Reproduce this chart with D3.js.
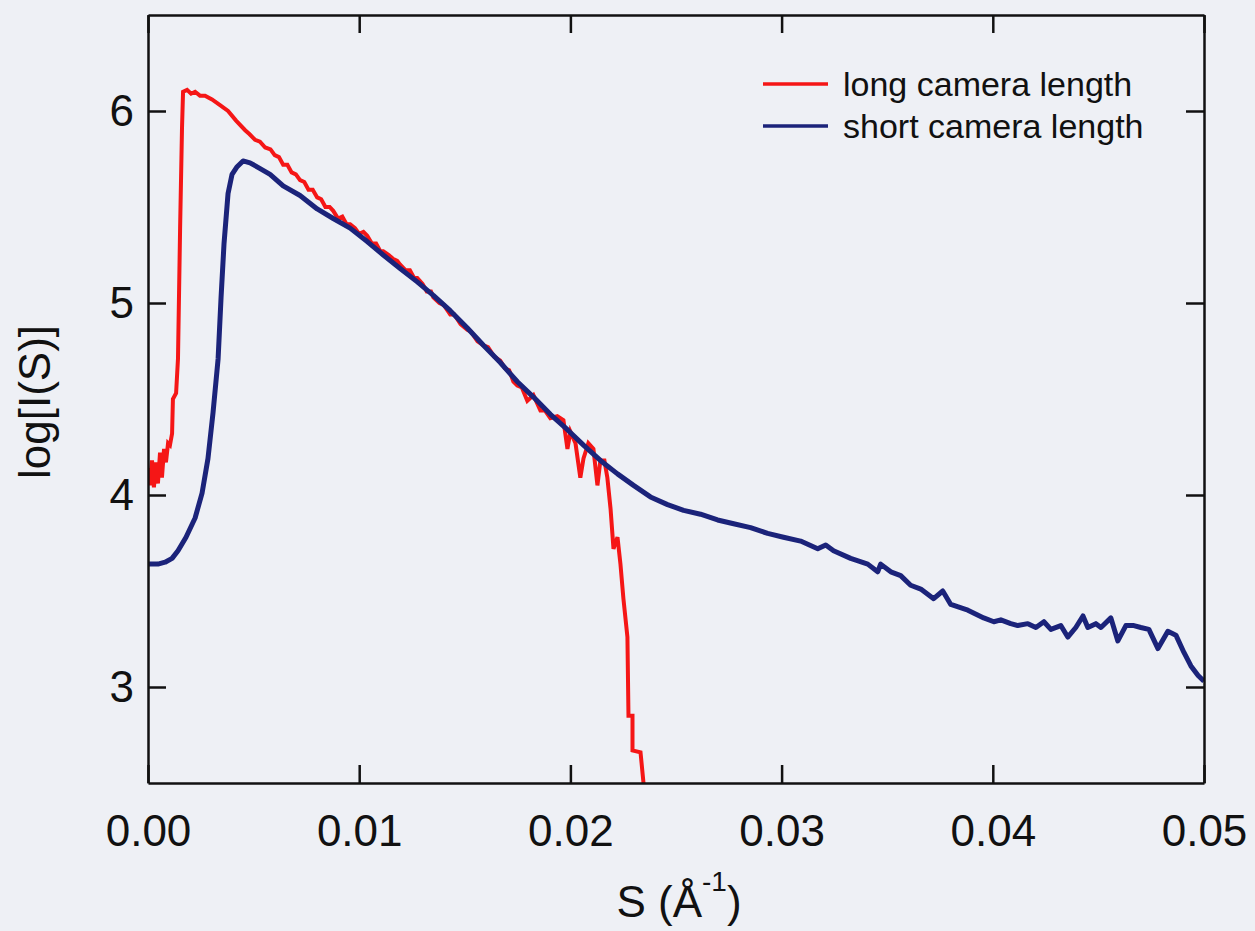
<!DOCTYPE html>
<html>
<head>
<meta charset="utf-8">
<script src="https://cdn.jsdelivr.net/npm/d3@7"></script>
<style>
  html, body { margin: 0; padding: 0; background: #eef0f5; }
  svg { display: block; }
  text { font-family: "Liberation Sans", Arial, sans-serif; fill: #111; }
</style>
</head>
<body>
<svg id="chart" width="1255" height="931"></svg>
<script>
// ---- data ----
const xTicks = [0, 0.01, 0.02, 0.03, 0.04, 0.05];
const xTickLabels = ["0.00", "0.01", "0.02", "0.03", "0.04", "0.05"];
const yTicks = [3, 4, 5, 6];
const yTickLabels = ["3", "4", "5", "6"];
const seriesNames = ["long camera length", "short camera length"];

const longS = [0, 0.00009, 0.00019, 0.00028, 0.00038, 0.00047, 0.00057, 0.00066, 0.00076, 0.00085,
  0.00095, 0.00104, 0.00114, 0.00118, 0.00133, 0.00142, 0.00152, 0.00161, 0.00166, 0.00185,
  0.00204, 0.00223, 0.00246, 0.00270, 0.00303, 0.00341, 0.00379, 0.00417, 0.00460, 0.00480,
  0.00507, 0.00530, 0.00555, 0.00580, 0.00600, 0.00620, 0.00640, 0.00660, 0.00680, 0.00700,
  0.00720, 0.00740, 0.00760, 0.00780, 0.00801, 0.00820, 0.00840, 0.00860, 0.00877, 0.00900,
  0.00920, 0.00940, 0.00957, 0.00980, 0.01000, 0.01020, 0.01038, 0.01060, 0.01080, 0.01100,
  0.01114, 0.01140, 0.01160, 0.01180, 0.01194, 0.01220, 0.01240, 0.01260, 0.01275, 0.01300,
  0.01320, 0.01340, 0.01351, 0.01380, 0.01400, 0.01431, 0.01450, 0.01480, 0.01512, 0.01530,
  0.01560, 0.01588, 0.01610, 0.01640, 0.01668, 0.01690, 0.01710, 0.01730, 0.01749, 0.01770,
  0.01796, 0.01825, 0.01858, 0.01880, 0.01905,
  0.01938, 0.01967, 0.01986, 0.02000, 0.02024, 0.02047, 0.02062, 0.02085, 0.02109, 0.02128,
  0.02142, 0.02161, 0.02175, 0.02190, 0.02204, 0.02223, 0.02237, 0.02251, 0.02270, 0.02275,
  0.02294, 0.02294, 0.02332, 0.02355];
const longLogI = [4.14, 4.05, 4.18, 4.04, 4.17, 4.06, 4.22, 4.09, 4.24, 4.17,
  4.27, 4.26, 4.32, 4.50, 4.53, 4.71, 5.39, 5.91, 6.10, 6.11,
  6.09, 6.10, 6.08, 6.08, 6.06, 6.03, 6.00, 5.95, 5.90, 5.88,
  5.85, 5.84, 5.81, 5.80, 5.77, 5.76, 5.72, 5.72, 5.68, 5.67,
  5.64, 5.63, 5.59, 5.59, 5.55, 5.54, 5.50, 5.50, 5.48, 5.44,
  5.45, 5.41, 5.41, 5.39, 5.36, 5.37, 5.35, 5.31, 5.31, 5.27,
  5.27, 5.25, 5.23, 5.22, 5.20, 5.17, 5.17, 5.13, 5.13, 5.10,
  5.06, 5.06, 5.03, 5.00, 4.99, 4.94, 4.94, 4.89, 4.86, 4.85,
  4.80, 4.78, 4.77, 4.72, 4.70, 4.66, 4.65, 4.59, 4.57, 4.56,
  4.49, 4.52, 4.44, 4.44, 4.40,
  4.41, 4.39, 4.24, 4.33, 4.27, 4.09, 4.19, 4.27, 4.24, 4.05,
  4.18, 4.18, 4.09, 3.93, 3.72, 3.78, 3.64, 3.46, 3.26, 2.85,
  2.85, 2.67, 2.66, 2.40];

const shortS = [0, 0.00047, 0.00081, 0.00114, 0.00142, 0.00180, 0.00223, 0.00256, 0.00284, 0.00308,
  0.00332, 0.00346, 0.00360, 0.00379, 0.00398, 0.00422, 0.00450, 0.00483, 0.00531, 0.00578,
  0.00640, 0.00720, 0.00801, 0.00877, 0.00957, 0.01038, 0.01114, 0.01194, 0.01275, 0.01351,
  0.01431, 0.01512, 0.01588, 0.01668, 0.01749, 0.01825, 0.01905, 0.01986, 0.02062, 0.02142,
  0.02223, 0.02299, 0.02379, 0.02460, 0.02536, 0.02616, 0.02697, 0.02773, 0.02853, 0.02934,
  0.03009, 0.03090, 0.03171, 0.03209, 0.03246, 0.03327, 0.03408, 0.03455, 0.03469, 0.03517,
  0.03564, 0.03611, 0.03659, 0.03720, 0.03763, 0.03801, 0.03882, 0.03957, 0.04005, 0.04038,
  0.04085, 0.04118, 0.04166, 0.04204, 0.04242, 0.04275, 0.04322, 0.04355, 0.04393, 0.04427,
  0.04450, 0.04488, 0.04512, 0.04559, 0.04592, 0.04630, 0.04668, 0.04701, 0.04739, 0.04782,
  0.04829, 0.04867, 0.04905, 0.04938, 0.04972, 0.05000];
const shortLogI = [3.64, 3.64, 3.65, 3.67, 3.71, 3.78, 3.88, 4.01, 4.19, 4.43,
  4.71, 5.03, 5.31, 5.57, 5.67, 5.71, 5.74, 5.73, 5.70, 5.67,
  5.61, 5.56, 5.49, 5.44, 5.39, 5.32, 5.25, 5.18, 5.11, 5.04,
  4.96, 4.87, 4.78, 4.69, 4.59, 4.51, 4.42, 4.34, 4.26, 4.18,
  4.11, 4.05, 3.99, 3.95, 3.92, 3.90, 3.87, 3.85, 3.83, 3.80,
  3.78, 3.76, 3.72, 3.74, 3.71, 3.67, 3.64, 3.60, 3.64, 3.60,
  3.58, 3.53, 3.51, 3.46, 3.50, 3.43, 3.40, 3.36, 3.34, 3.35,
  3.33, 3.32, 3.33, 3.31, 3.34, 3.30, 3.32, 3.26, 3.31, 3.37,
  3.31, 3.33, 3.31, 3.36, 3.24, 3.32, 3.32, 3.31, 3.30, 3.20,
  3.29, 3.27, 3.18, 3.11, 3.06, 3.03];

// ---- layout ----
const svg = d3.select("#chart");
const W = 1255, H = 931;
const mLeft = 148, mRight = 1204, mTop = 15, mBottom = 783;
const colors = ["#f51616", "#1b237a"];

svg.append("rect").attr("width", W).attr("height", H).attr("fill", "#eef0f5");

const x = d3.scaleLinear().domain([0, 0.05]).range([mLeft, mRight]);
const y = d3.scaleLinear().domain([2.5, 6.5]).range([mBottom, mTop]);

svg.append("defs").append("clipPath").attr("id", "clip")
  .append("rect").attr("x", mLeft).attr("y", mTop)
  .attr("width", mRight - mLeft).attr("height", mBottom - mTop);

const line = d3.line().x(d => x(d[0])).y(d => y(d[1]));
const longData = longS.map((s, i) => [s, longLogI[i]]);
const shortData = shortS.map((s, i) => [s, shortLogI[i]]);

const plot = svg.append("g").attr("clip-path", "url(#clip)");
plot.append("path").datum(longData).attr("d", line)
  .attr("fill", "none").attr("stroke", colors[0]).attr("stroke-width", 4)
  .attr("stroke-linejoin", "miter");
plot.append("path").datum(shortData).attr("d", line)
  .attr("fill", "none").attr("stroke", colors[1]).attr("stroke-width", 5)
  .attr("stroke-linejoin", "round");

// ---- axes (ticks inward on all four sides) ----
const tickLen = 18;
const fmtX = (d, i) => xTickLabels[i];
const fmtY = (d, i) => yTickLabels[i];

const axB = svg.append("g").attr("transform", `translate(0,${mBottom})`)
  .call(d3.axisBottom(x).tickValues(xTicks).tickFormat(fmtX).tickSizeInner(-tickLen).tickSizeOuter(0).tickPadding(32));
const axT = svg.append("g").attr("transform", `translate(0,${mTop})`)
  .call(d3.axisTop(x).tickValues(xTicks).tickFormat("").tickSizeInner(-tickLen).tickSizeOuter(0));
const axL = svg.append("g").attr("transform", `translate(${mLeft},0)`)
  .call(d3.axisLeft(y).tickValues(yTicks).tickFormat(fmtY).tickSizeInner(-tickLen).tickSizeOuter(0).tickPadding(14));
const axR = svg.append("g").attr("transform", `translate(${mRight},0)`)
  .call(d3.axisRight(y).tickValues(yTicks).tickFormat("").tickSizeInner(-tickLen).tickSizeOuter(0));

[axB, axT, axL, axR].forEach(a => {
  a.select(".domain").attr("stroke", "#111").attr("stroke-width", 2.5);
  a.selectAll(".tick line").attr("stroke", "#111").attr("stroke-width", 2.5);
  a.selectAll("text").attr("font-family", "'Liberation Sans', Arial, sans-serif")
    .attr("font-size", 44).attr("fill", "#111");
});

// ---- axis titles ----
svg.append("text")
  .attr("transform", `translate(50,402) rotate(-90)`)
  .attr("text-anchor", "middle")
  .attr("font-size", 44)
  .text("log[I(S)]");

const xt = svg.append("text")
  .attr("x", 679).attr("y", 917)
  .attr("text-anchor", "middle")
  .attr("font-size", 44);
xt.append("tspan").text("S (Å");
xt.append("tspan").attr("font-size", 28).attr("dy", -26).text("-1");
xt.append("tspan").attr("dy", 26).text(")");

// ---- legend ----
const legend = svg.append("g");
const legY = [84, 126];
seriesNames.forEach((name, i) => {
  legend.append("line")
    .attr("x1", 763).attr("x2", 828)
    .attr("y1", legY[i]).attr("y2", legY[i])
    .attr("stroke", colors[i]).attr("stroke-width", 3.5);
  legend.append("text")
    .attr("x", 843).attr("y", legY[i] + 12)
    .attr("font-size", 34)
    .text(name);
});
</script>
</body>
</html>
